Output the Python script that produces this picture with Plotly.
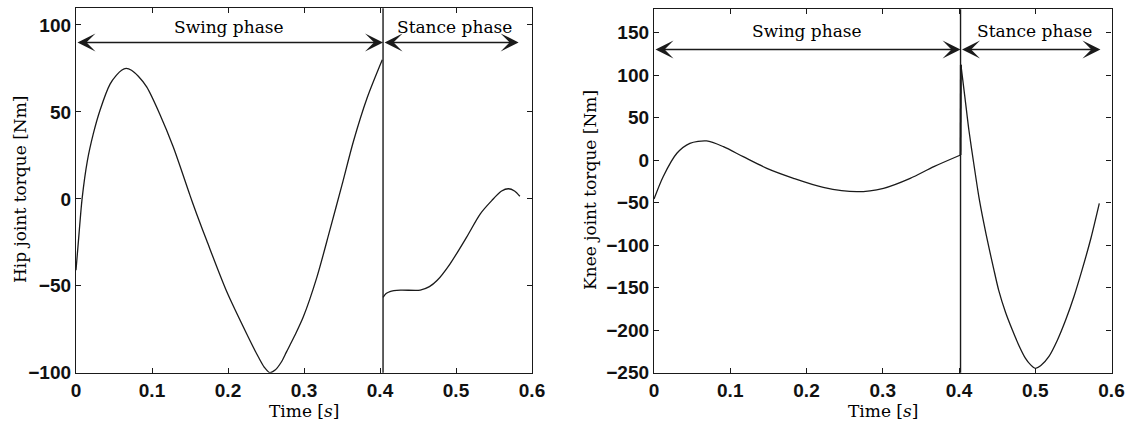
import plotly.graph_objects as go

# ---------------- data ----------------
hip_swing_t = [0, 0.004, 0.008, 0.015, 0.0228, 0.0316, 0.0448, 0.053, 0.060, 0.066, 0.073, 0.082,
               0.093, 0.11, 0.128, 0.150, 0.159, 0.172, 0.198, 0.225, 0.240, 0.248, 0.255, 0.262,
               0.270, 0.277, 0.288, 0.299, 0.317, 0.334, 0.350, 0.365, 0.383, 0.403]
hip_swing_v = [-41, -20, 0, 22, 37.5, 51, 66, 71, 74, 75, 74, 70.5,
               64.4, 49, 29.8, 2, -9, -24, -53, -78, -91, -97, -100, -98.5,
               -94, -88, -78.5, -68, -45, -18, 8, 33, 58, 80]
hip_stance_t = [0.404, 0.408, 0.413, 0.427, 0.453, 0.465, 0.475, 0.492, 0.514, 0.532, 0.547,
                0.560, 0.569, 0.577, 0.584]
hip_stance_v = [-56.7, -54.5, -53.3, -52.5, -52.5, -50.5, -47, -37.5, -22, -8.6, -1,
                4.5, 5.8, 4.5, 1.5]

knee_swing_t = [0, 0.012, 0.030, 0.047, 0.069, 0.091, 0.117, 0.148, 0.183, 0.222, 0.266, 0.301,
                0.336, 0.367, 0.402]
knee_swing_v = [-46, -19.6, 7.9, 19.6, 22.4, 15.7, 3.9, -9.8, -21.5, -32.2, -37.3, -33.3,
                -21.6, -7.8, 5.9]
knee_jump_t = [0.402, 0.4025]
knee_jump_v = [5.9, 112]
knee_stance_t = [0.4025, 0.408, 0.413, 0.4195, 0.426, 0.4325, 0.439, 0.4455, 0.452, 0.461, 0.470,
                 0.479, 0.487, 0.494, 0.500, 0.507, 0.518, 0.529, 0.540, 0.551, 0.5615, 0.573, 0.584]
knee_stance_v = [112, 72, 35, -5, -43, -74, -102, -128, -153, -179, -200,
                 -219, -233, -241, -245, -242, -231, -212, -188, -160, -129, -92, -51]

x_ticks = [0, 0.1, 0.2, 0.3, 0.4, 0.5, 0.6]
x_tick_labels = ["0", "0.1", "0.2", "0.3", "0.4", "0.5", "0.6"]
hip_y_ticks = [-100, -50, 0, 50, 100]
knee_y_ticks = [-250, -200, -150, -100, -50, 0, 50, 100, 150]

phase_boundary_hip = 0.404
phase_boundary_knee = 0.402
stance_end_hip = 0.5824
stance_end_knee = 0.5855
arrow_level_hip = 90
arrow_level_knee = 130
label_level_hip = 99
label_level_knee = 152

# ---------------- figure ----------------
W, H = 1132, 423
SERIF = "DejaVu Serif"
SANS = "Liberation Sans, Arial, sans-serif"
INK = "#1a1a1a"

fig = go.Figure()
smooth = dict(color=INK, width=1.3, shape="spline", smoothing=0.8)
fig.add_trace(go.Scatter(x=hip_swing_t, y=hip_swing_v, mode="lines", line=smooth,
                         xaxis="x", yaxis="y", showlegend=False))
fig.add_trace(go.Scatter(x=hip_stance_t, y=hip_stance_v, mode="lines", line=smooth,
                         xaxis="x", yaxis="y", showlegend=False))
fig.add_trace(go.Scatter(x=knee_swing_t, y=knee_swing_v, mode="lines", line=smooth,
                         xaxis="x2", yaxis="y2", showlegend=False))
fig.add_trace(go.Scatter(x=knee_jump_t, y=knee_jump_v, mode="lines", line=dict(color=INK, width=2),
                         xaxis="x2", yaxis="y2", showlegend=False))
fig.add_trace(go.Scatter(x=knee_stance_t, y=knee_stance_v, mode="lines", line=smooth,
                         xaxis="x2", yaxis="y2", showlegend=False))

def px_x(p):
    return p / W

def px_y(p):
    return 1 - p / H

axis_common = dict(showline=True, linecolor=INK, linewidth=1.3, mirror="ticks", ticks="inside",
                   ticklen=5, tickwidth=1, tickcolor=INK, showgrid=False, zeroline=False,
                   tickfont=dict(family=SANS, size=19, color="#111", weight="bold"),
                   automargin=False, fixedrange=True)

fig.update_layout(
    width=W, height=H, autosize=False,
    margin=dict(l=0, r=0, t=0, b=0),
    paper_bgcolor="white", plot_bgcolor="white",
    xaxis=dict(domain=[px_x(76), px_x(532)], range=[0, 0.6], tickmode="array",
               tickvals=x_ticks, ticktext=x_tick_labels, anchor="y", **axis_common),
    yaxis=dict(domain=[px_y(372.7), px_y(8.3)], range=[-100, 109.6], tickmode="array",
               tickvals=hip_y_ticks, anchor="x", **axis_common),
    xaxis2=dict(domain=[px_x(654), px_x(1111.5)], range=[0, 0.6], tickmode="array",
                tickvals=x_ticks, ticktext=x_tick_labels, anchor="y2", **axis_common),
    yaxis2=dict(domain=[px_y(372.7), px_y(9.3)], range=[-250.2, 177.3], tickmode="array",
                tickvals=knee_y_ticks, anchor="x2", **axis_common),
)

# phase boundary lines
for xr, yr, b in (("x", "y", phase_boundary_hip), ("x2", "y2", phase_boundary_knee)):
    fig.add_shape(type="line", xref=xr, yref=yr + " domain", x0=b, x1=b, y0=0, y1=1,
                  line=dict(color=INK, width=1.4))

# double-headed arrows
def dbl_arrow(xr, yr, x0, x1, y):
    fig.add_annotation(xref=xr, yref=yr, axref=xr, ayref=yr, x=x1, y=y, ax=x0, ay=y,
                       text="", showarrow=True, arrowside="end+start",
                       arrowhead=3, startarrowhead=3, arrowsize=2.0, startarrowsize=2.0,
                       arrowwidth=1.5, arrowcolor=INK, standoff=0, startstandoff=0)

dbl_arrow("x", "y", 0, phase_boundary_hip, arrow_level_hip)
dbl_arrow("x", "y", phase_boundary_hip, stance_end_hip, arrow_level_hip)
dbl_arrow("x2", "y2", 0, phase_boundary_knee, arrow_level_knee)
dbl_arrow("x2", "y2", phase_boundary_knee, stance_end_knee, arrow_level_knee)

lab_font = dict(family=SERIF, size=17, color="black")
for xr, yr, xs, xst, yl in (("x", "y", 0.2015, 0.4977, label_level_hip),
                            ("x2", "y2", 0.2, 0.499, label_level_knee)):
    fig.add_annotation(xref=xr, yref=yr, x=xs, y=yl, text="Swing phase", showarrow=False,
                       font=lab_font, xanchor="center", yanchor="middle")
    fig.add_annotation(xref=xr, yref=yr, x=xst, y=yl, text="Stance phase", showarrow=False,
                       font=lab_font, xanchor="center", yanchor="middle")

# axis titles
fig.add_annotation(xref="paper", yref="paper", x=px_x(20), y=px_y(190), text="Hip joint torque [Nm]",
                   textangle=-90, showarrow=False, font=lab_font, xanchor="center", yanchor="middle")
fig.add_annotation(xref="paper", yref="paper", x=px_x(590), y=px_y(190), text="Knee joint torque [Nm]",
                   textangle=-90, showarrow=False, font=lab_font, xanchor="center", yanchor="middle")
for cx in (304, 882.5):
    fig.add_annotation(xref="paper", yref="paper", x=px_x(cx), y=px_y(411), text="Time [<i>s</i>]",
                       showarrow=False, font=lab_font, xanchor="center", yanchor="middle")

fig.write_html("out.html", config={"displayModeBar": False},
               post_script="document.body.style.margin='0';document.body.style.padding='0';"
                           "document.body.style.overflow='hidden';")
